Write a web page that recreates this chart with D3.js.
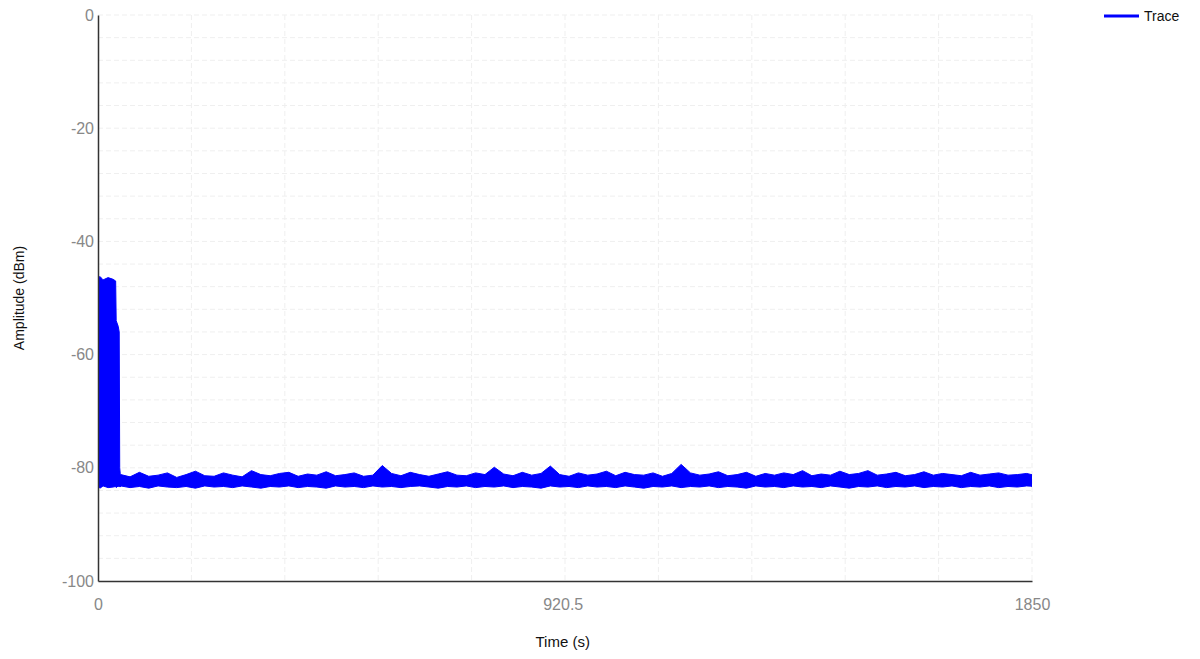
<!DOCTYPE html>
<html><head><meta charset="utf-8">
<script src="https://cdn.jsdelivr.net/npm/d3@7"></script>
<style>
body{margin:0;background:#fff;font-family:"Liberation Sans",Arial,sans-serif;}
.tick text{fill:#888;font-size:16px;}
</style></head>
<body>
<script>
// envelope of the trace (time in s, dBm)
const burstTimes = [0, 4, 10, 20, 30, 35, 36, 40, 42, 43, 44];
const burstUpper = [-46.5, -46.2, -46.8, -46.4, -46.7, -47, -54, -55, -56, -80, -81];
const burstLower = [-83.3, -83.6, -83.2, -83.5, -83.4, -83.3, -83.5, -83.2, -83.4, -83.3, -83.4];

const noiseStep = 18.5;
const noiseUpper = [
 -81.2,-81.6,-80.8,-81.5,-81.3,-80.9,-81.7,-81.2,-80.6,-81.4,
 -81.5,-80.9,-81.3,-81.6,-80.5,-81.2,-81.4,-81.0,-80.8,-81.5,
 -81.1,-81.3,-80.7,-81.4,-81.2,-80.9,-81.5,-81.3,-79.6,-81.0,
 -81.4,-80.8,-81.2,-81.5,-81.1,-80.7,-81.3,-81.4,-80.9,-81.2,
 -79.9,-81.1,-81.4,-80.8,-81.3,-81.0,-79.7,-81.2,-81.5,-80.9,
 -81.3,-81.1,-80.6,-81.4,-80.8,-81.2,-81.3,-80.9,-81.5,-81.0,
 -79.4,-80.9,-81.3,-81.1,-80.7,-81.4,-81.2,-80.8,-81.5,-81.0,
 -81.3,-80.9,-81.2,-80.5,-81.4,-81.1,-81.3,-80.6,-81.2,-81.0,
 -80.5,-81.3,-81.1,-80.8,-81.4,-81.2,-80.7,-81.3,-81.0,-81.2,
 -81.4,-80.8,-81.3,-81.1,-80.9,-81.3,-81.2,-81.0,-81.4,-81.2
];
const noiseLower = [
 -83.2,-83.5,-83.3,-83.6,-83.2,-83.4,-83.5,-83.3,-83.6,-83.2,
 -83.4,-83.3,-83.5,-83.2,-83.4,-83.6,-83.3,-83.4,-83.2,-83.5,
 -83.3,-83.4,-83.6,-83.2,-83.4,-83.3,-83.5,-83.2,-83.4,-83.3,
 -83.5,-83.3,-83.2,-83.4,-83.6,-83.3,-83.4,-83.2,-83.5,-83.3,
 -83.4,-83.2,-83.5,-83.3,-83.4,-83.6,-83.2,-83.4,-83.3,-83.5,
 -83.2,-83.4,-83.3,-83.5,-83.2,-83.4,-83.6,-83.3,-83.4,-83.2,
 -83.5,-83.3,-83.4,-83.2,-83.5,-83.3,-83.4,-83.6,-83.2,-83.4,
 -83.3,-83.5,-83.2,-83.4,-83.3,-83.5,-83.2,-83.4,-83.6,-83.3,
 -83.4,-83.2,-83.5,-83.3,-83.4,-83.2,-83.5,-83.3,-83.4,-83.2,
 -83.5,-83.3,-83.4,-83.2,-83.5,-83.3,-83.4,-83.2,-83.3,-83.4
];
const xTickValues = [0, 920.5, 1850];
const yTickValues = [0, -20, -40, -60, -80, -100];

const width = 1200, height = 659;
const m = {left: 98, top: 15, right: 168, bottom: 78};

const svg = d3.select("body").append("svg")
	.attr("width", width)
	.attr("height", height);

const x = d3.scaleLinear().domain([0, 1850]).range([m.left, width - m.right]);
const y = d3.scaleLinear().domain([-100, 0]).range([height - m.bottom, m.top]);

svg.append("clipPath").attr("id", "plot").append("rect")
	.attr("x", x(0)).attr("y", y(0)).attr("width", x(1850) - x(0)).attr("height", y(-100) - y(0));

// grid
const grid = svg.append("g").attr("stroke", "#efefef").attr("stroke-dasharray", "5,3");
grid.selectAll("line.v").data(d3.range(1, 11).map(i => i * 185))
	.enter().append("line")
	.attr("x1", d => x(d)).attr("x2", d => x(d))
	.attr("y1", y(0)).attr("y2", y(-100));
grid.selectAll("line.h").data(d3.range(-96, 1, 4))
	.enter().append("line")
	.attr("x1", x(0)).attr("x2", x(1850))
	.attr("y1", d => y(d)).attr("y2", d => y(d))
	.attr("stroke-dasharray", d => d % 20 == 0 ? null : "5,3");

// trace as filled envelope
const data = burstTimes.map((t, i) => ({t: t, hi: burstUpper[i], lo: burstLower[i]}))
	.concat(noiseUpper.map((v, i) => ({t: 45 + i * noiseStep, hi: v, lo: noiseLower[i]})));
data[data.length - 1].t = 1850;

const area = d3.area()
	.x(d => x(d.t)).y0(d => y(d.lo)).y1(d => y(d.hi));
svg.append("path").datum(data)
	.attr("clip-path", "url(#plot)")
	.attr("d", area)
	.attr("fill", "#0000ff")
	.attr("stroke", "#0000ff")
	.attr("stroke-width", 1);

// axes
const xAxis = svg.append("g")
	.attr("transform", "translate(0," + y(-100) + ")")
	.call(d3.axisBottom(x).tickValues(xTickValues).tickSize(0).tickPadding(18).tickFormat(d => String(d)));
const yAxis = svg.append("g")
	.attr("transform", "translate(" + x(0) + ",0)")
	.call(d3.axisLeft(y).tickValues(yTickValues).tickSize(0).tickPadding(4).tickFormat(d => String(d)));
xAxis.select(".domain").attr("stroke", "#333").attr("stroke-width", 1.5);
yAxis.select(".domain").attr("stroke", "#333").attr("stroke-width", 1.5);
svg.selectAll(".tick text").attr("font-family", "Liberation Sans, Arial, sans-serif");

// titles
svg.append("text")
	.text("Time (s)")
	.attr("x", x(920.5)).attr("y", 647)
	.attr("text-anchor", "middle")
	.attr("font-size", 15).attr("fill", "#111");
svg.append("text")
	.text("Amplitude (dBm)")
	.attr("transform", "translate(24," + y(-50) + ") rotate(-90)")
	.attr("text-anchor", "middle")
	.attr("font-size", 14).attr("fill", "#111");

// legend
svg.append("line")
	.attr("x1", 1104).attr("x2", 1139).attr("y1", 16).attr("y2", 16)
	.attr("stroke", "#0000ff").attr("stroke-width", 3);
svg.append("text")
	.text("Trace")
	.attr("x", 1144).attr("y", 21)
	.attr("font-size", 14).attr("fill", "#111");
</script>
</body></html>
